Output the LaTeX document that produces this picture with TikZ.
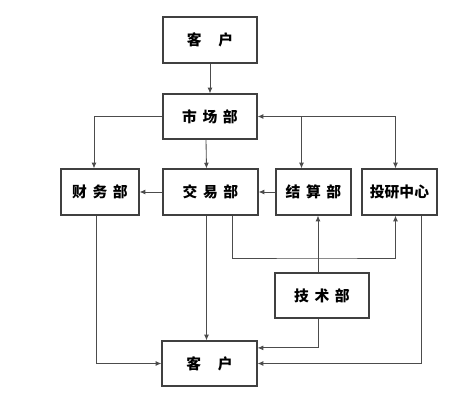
\documentclass[tikz,border=0pt]{standalone}
\usepackage{fontspec}
\newfontfamily\cjk{Noto Sans CJK SC}
\usetikzlibrary{arrows.meta}
\newcommand{\gap}{\hspace{4pt}}
\tikzset{
  box/.style={draw=black!75,line width=0.9pt,minimum height=1.15cm,inner sep=0pt,font=\cjk\bfseries\fontsize{10.5pt}{12pt}\selectfont},
  link/.style={draw=black!70,line width=0.6pt,-{Latex[length=4pt,width=3.5pt]}}
}

\begin{document}
\begin{tikzpicture}[x=0.025cm,y=-0.025cm]
\useasboundingbox (0,0) rectangle (450,400);

\node [box,minimum width=2.35cm] (top) at (210,40) {客\hspace{12pt}户};
\node [box,minimum width=2.35cm,minimum height=1.125cm] (market) at (210,116.5) {市\gap 场\gap 部};

\node [box,minimum width=1.95cm] (finance) at (100,192) {财\gap 务\gap 部};
\node [box,minimum width=2.375cm] (trade) at (210.5,192) {交\gap 易\gap 部\hspace{12pt}};
\node [box,minimum width=1.875cm] (settle) at (313.5,192) {结\gap 算\gap 部};
\node [box,minimum width=1.875cm] (research) at (399.5,192) {投研中心};

\node [box,minimum width=2.35cm,minimum height=1.125cm] (tech) at (322,295.5) {技\gap 术\gap 部\hspace{8pt}};
\node [box,minimum width=2.375cm,minimum height=1.125cm] (client) at (209.5,363.5) {客\hspace{12pt}户};

% top part
\draw [link] (top) -- (market);
\draw [link] ([xshift=-0.1cm]market.south) -- ([xshift=-0.1cm]trade.north);
\draw [link] (market.west) -| ([xshift=-0.15cm]finance.north);
\draw [link,{Latex[length=4pt,width=3.5pt]}-{Latex[length=4pt,width=3.5pt]}] ([xshift=-0.1cm]research.north) |- (market.east);
\coordinate (settlein) at ([xshift=-0.3cm]settle.north);
\draw [link] (settlein |- market.east) -- (settlein);

% middle row
\draw [link] (settle.west) -- (trade.east);
\draw [link] (trade.west) -- (finance.east);

% lower part
\coordinate (bus) at (320,258);
\draw [link] ([xshift=0.55cm]trade.south) |- (bus) -| ([xshift=-0.1cm]research.south);
\draw [link] ([xshift=-0.1cm]tech.north) -- ([xshift=-0.1cm]tech.north |- settle.south);
\draw [link] ([xshift=-0.1cm]trade.south) -- ([xshift=-0.1cm]trade.south |- client.north);
\draw [link] ([xshift=-0.1cm]tech.south) |- ([yshift=0.39cm]client.east);
\draw [link] ([xshift=0.56cm]research.south) |- (client.east);
\draw [link] ([xshift=-0.08cm]finance.south) |- (client.west);
\end{tikzpicture}
\end{document}
